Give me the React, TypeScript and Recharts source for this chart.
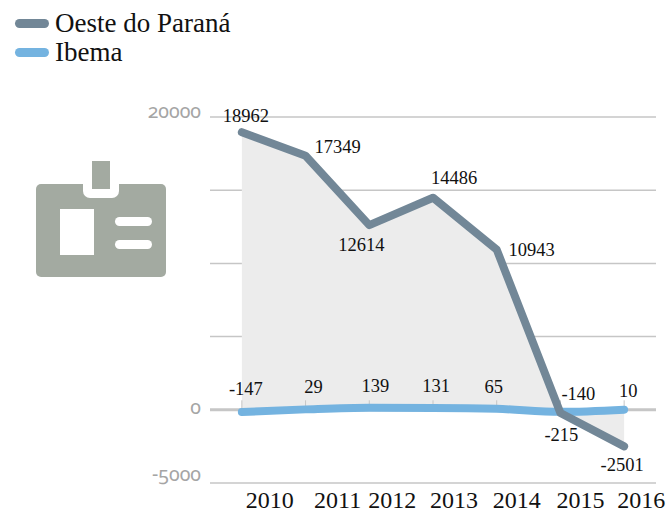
import { Area, CartesianGrid, ComposedChart, LabelList, Line, ReferenceLine, XAxis, YAxis } from "recharts";

const years = ["2010", "2011", "2012", "2013", "2014", "2015", "2016"];
const oeste = [18962, 17349, 12614, 14486, 10943, -215, -2501];
const ibema = [-147, 29, 139, 131, 65, -140, 10];
const yTicks = [-5000, 0, 5000, 10000, 15000, 20000];
const yLabels = [-5000, 0, 20000];

// label nudges
const oesteLabelOffset = [[4, -15], [32, -8], [-8, 21], [21, -19], [35, 1], [1, 23], [-2, 20]];
const ibemaLabelOffset = [[4, -22], [8, -21], [6, -21], [3, -21], [-3, -21], [18, -17], [4, -18]];
const yearLabelOffset = [28, 32, 23, 21, 20, 20, 17];

const data = years.map((year, i) => ({ year, oeste: oeste[i], ibema: ibema[i] }));

const serif = "'Liberation Serif', serif";
const oldStyle = { fontFeatureSettings: "'onum'" };

const legendItems = [
  { name: "Oeste do Paraná", color: "#728797" },
  { name: "Ibema", color: "#74b3e0" },
];

const pointLabel = (offsets: number[][]) => (props: any) => {
  const { x, y, value, index } = props;
  const [dx, dy] = offsets[index];
  return (
    <text x={x + dx} y={y + dy} dy={5} textAnchor="middle" fontFamily={serif} fontSize={18.5} fill="#111">
      {value}
    </text>
  );
};

const YearTick = (props: any) => {
  const { x, y, payload, index } = props;
  return (
    <text x={x + yearLabelOffset[index]} y={y + 10} dy={7} textAnchor="middle" fontFamily={serif} fontSize={24} fill="#111">
      {payload.value}
    </text>
  );
};

const ValueTick = (props: any) => {
  const { x, y, payload } = props;
  if (!yLabels.includes(payload.value)) return <g />;
  const nudge = payload.value === 0 ? -1 : payload.value === 20000 ? -4 : -7;
  return (
    <text x={x - 1} y={y + nudge} dy={5} textAnchor="end" fontFamily="'Noto Sans', sans-serif" fontSize={19.5} fill="#a5a5a5" style={oldStyle}>
      {payload.value}
    </text>
  );
};

const BadgeIcon = () => (
  <svg width={668} height={513} style={{ position: "absolute", left: 0, top: 0 }}>
    <rect x={36} y={184} width={130} height={93} rx={5} fill="#a3aaa1" />
    <rect x={83} y={176} width={36} height={22} rx={7} fill="#fff" />
    <rect x={92} y={161} width={18} height={28} fill="#a3aaa1" />
    <rect x={60} y={209} width={34} height={46} fill="#fff" />
    <rect x={115} y={217} width={37} height={9} rx={4.5} fill="#fff" />
    <rect x={115} y={240} width={37} height={9} rx={4.5} fill="#fff" />
  </svg>
);

export default function App() {
  return (
    <div style={{ position: "absolute", left: 0, top: 0, width: 668, height: 513, background: "#fff", overflow: "hidden" }}>
      <BadgeIcon />
      <div style={{ position: "absolute", left: 15, top: 9, fontFamily: serif, fontSize: 27, lineHeight: "29px", color: "#111" }}>
        {legendItems.map((item) => (
          <div key={item.name} style={{ display: "flex", alignItems: "center", whiteSpace: "nowrap" }}>
            <span style={{ width: 34, height: 9, borderRadius: 5, background: item.color, marginRight: 6 }} />
            {item.name}
          </div>
        ))}
      </div>
      <div style={{ position: "absolute", left: 0, top: 0 }}>
        <ComposedChart width={668} height={513} data={data} margin={{ top: 117, right: 12, bottom: 0, left: 0 }}>
          <Area dataKey="oeste" stroke="none" fill="#ececec" fillOpacity={1} isAnimationActive={false} baseValue={0} />
          <CartesianGrid horizontal vertical={false} stroke="#c6c6c6" strokeWidth={1.5} />
          <XAxis dataKey="year" scale="band" axisLine={false} tickLine={false} height={30} tick={<YearTick />} interval={0} />
          <YAxis width={210} domain={[-5000, 20000]} ticks={yTicks} axisLine={false} tickLine={false} tick={<ValueTick />} interval={0} />
          <ReferenceLine y={0} stroke="#c6c6c6" strokeWidth={3} />
          {years.map((year) => (
            <ReferenceLine key={year} segment={[{ x: year, y: 0 }, { x: year, y: 650 }]} stroke="#c6c6c6" />
          ))}
          <Line dataKey="ibema" type="monotone" stroke="#74b3e0" strokeWidth={8} strokeLinecap="round" dot={false} isAnimationActive={false}>
            <LabelList dataKey="ibema" content={pointLabel(ibemaLabelOffset)} />
          </Line>
          <Line dataKey="oeste" type="linear" stroke="#728797" strokeWidth={8} strokeLinecap="round" strokeLinejoin="round" dot={false} isAnimationActive={false}>
            <LabelList dataKey="oeste" content={pointLabel(oesteLabelOffset)} />
          </Line>
        </ComposedChart>
      </div>
    </div>
  );
}
